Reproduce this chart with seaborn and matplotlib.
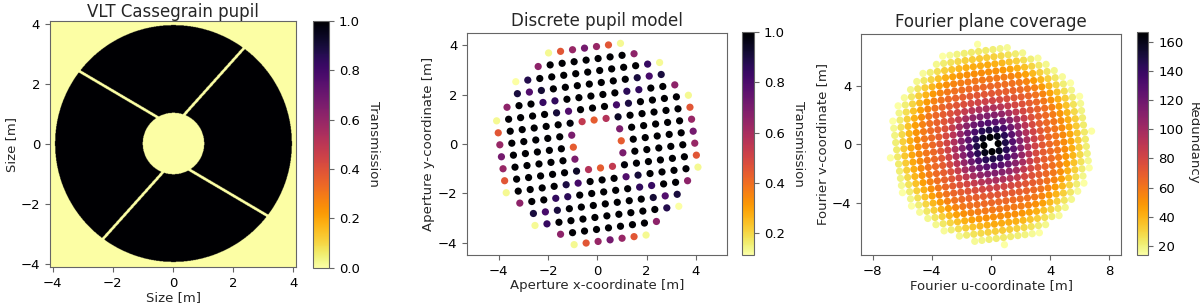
import numpy as np
import pandas as pd
import matplotlib
matplotlib.use('Agg')
import matplotlib.pyplot as plt
import matplotlib.colors as mcolors
import seaborn as sns

# VLT pupil geometry (metres)
image_half_size = 4.1
outer_radius = 3.93
inner_radius = 1.02
spider_hub_y = [0.56, -0.56]
spider_angles = [[48.1, 149.5], [228.1, 329.5]]
spider_width = 0.09

# discrete pupil model: square grid seen in the middle panel
model_outer_radius = 4.02
grid_pitch = 0.49
grid_angle = 7.6
grid_index = list(range(-10, 11))
min_transmission = 0.11
min_redundancy = 13.9

size_ticks = [-4, -2, 0, 2, 4]
fourier_ticks = [-8, -4, 0, 4, 8]
transmission_ticks = [0.0, 0.2, 0.4, 0.6, 0.8, 1.0]
discrete_ticks = [0.2, 0.4, 0.6, 0.8, 1.0]
redundancy_ticks = [20, 40, 60, 80, 100, 120, 140, 160]

titles = ['VLT Cassegrain pupil', 'Discrete pupil model', 'Fourier plane coverage']


def pupil_mask(x, y, r_out=outer_radius):
    r = np.hypot(x, y)
    mask = (r <= r_out) & (r >= inner_radius)
    for hub, angles in zip(spider_hub_y, spider_angles):
        for a in np.deg2rad(angles):
            dx, dy = np.cos(a), np.sin(a)
            ry = y - hub
            along = x * dx + ry * dy
            across = np.abs(-x * dy + ry * dx)
            mask &= ~((along > 0) & (across < spider_width / 2))
    return mask.astype(float)


def grid_to_xy(i, j):
    th = np.deg2rad(grid_angle)
    x = grid_pitch * (i * np.cos(th) - j * np.sin(th))
    y = grid_pitch * (i * np.sin(th) + j * np.cos(th))
    return x, y


# pupil image
n_pix = 600
c = (np.arange(n_pix) + 0.5) / n_pix * 2 * image_half_size - image_half_size
X, Y = np.meshgrid(c, c)
pupil = pupil_mask(X, Y)

# transmission of each grid cell (fraction of the cell inside the pupil)
sub = (np.arange(14) + 0.5) / 14 - 0.5
su, sv = np.meshgrid(sub, sub)
rows = []
for i in grid_index:
    for j in grid_index:
        sx, sy = grid_to_xy(i + su, j + sv)
        t = pupil_mask(sx, sy, model_outer_radius).mean()
        if t >= min_transmission:
            x, y = grid_to_xy(i, j)
            rows.append({'i': i, 'j': j, 'x': x, 'y': y, 't': t})
model = pd.DataFrame(rows)

# baselines between all pairs of sub-apertures
ia, ib = np.meshgrid(model.index, model.index)
keep = ia != ib
pairs = pd.DataFrame({
    'du': model['i'].values[ia[keep]] - model['i'].values[ib[keep]],
    'dv': model['j'].values[ia[keep]] - model['j'].values[ib[keep]],
    'w': model['t'].values[ia[keep]] * model['t'].values[ib[keep]],
})
uv = pairs.groupby(['du', 'dv'])['w'].sum().reset_index()
uv = uv[uv['w'] >= min_redundancy].copy()
uv['u'], uv['v'] = grid_to_xy(uv['du'], uv['dv'])

sns.set_style('ticks')
plt.rcParams['font.family'] = ['DejaVu Sans']
plt.rcParams['axes.edgecolor'] = '#666666'
plt.rcParams['xtick.color'] = '#666666'
plt.rcParams['ytick.color'] = '#666666'
plt.rcParams['xtick.labelcolor'] = 'black'
plt.rcParams['ytick.labelcolor'] = 'black'
plt.rcParams['xtick.labelsize'] = 9.5
plt.rcParams['ytick.labelsize'] = 9.5
plt.rcParams['axes.labelsize'] = 9.5
plt.rcParams['axes.titlesize'] = 12

fig = plt.figure(figsize=(12, 3.04), dpi=100)
ax1 = fig.add_axes([0.0411, 0.1207, 0.2062, 0.8112])
cax1 = fig.add_axes([0.2606, 0.1194, 0.0138, 0.8125])
ax2 = fig.add_axes([0.3894, 0.1612, 0.2167, 0.7303])
cax2 = fig.add_axes([0.6186, 0.1612, 0.0100, 0.7326])
ax3 = fig.add_axes([0.7175, 0.1612, 0.2167, 0.7270])
cax3 = fig.add_axes([0.9473, 0.1612, 0.0097, 0.7326])

cmap = 'inferno_r'

# left: pupil image
im = ax1.imshow(pupil, cmap=cmap, origin='lower', vmin=0, vmax=1,
                extent=[-image_half_size, image_half_size, -image_half_size, image_half_size])
ax1.set_xticks(size_ticks)
ax1.set_yticks(size_ticks)
ax1.set_xlim(-image_half_size, image_half_size)
ax1.set_ylim(-image_half_size, image_half_size)
ax1.set_xlabel('Size [m]', labelpad=1)
ax1.set_ylabel('Size [m]', labelpad=2)
ax1.set_title(titles[0], pad=3)
cb1 = fig.colorbar(im, cax=cax1, ticks=transmission_ticks)
cb1.set_label('Transmission', rotation=270, va='bottom', labelpad=5, fontsize=9.5)

# middle: discrete pupil model
norm2 = mcolors.Normalize(model['t'].min(), model['t'].max())
sns.scatterplot(data=model, x='x', y='y', hue='t', palette=cmap, hue_norm=norm2,
                s=27, linewidth=0, legend=False, ax=ax2)
ax2.set_xticks(size_ticks)
ax2.set_yticks(size_ticks)
ax2.set_xlim(-5.27, 5.27)
ax2.set_ylim(-4.5, 4.5)
ax2.set_xlabel('Aperture x-coordinate [m]', labelpad=1)
ax2.set_ylabel('Aperture y-coordinate [m]', labelpad=2)
ax2.set_title(titles[1], pad=5)
sm2 = plt.cm.ScalarMappable(norm=norm2, cmap=cmap)
cb2 = fig.colorbar(sm2, cax=cax2, ticks=discrete_ticks)
cb2.set_label('Transmission', rotation=270, va='bottom', labelpad=5, fontsize=9.5)

# right: Fourier plane coverage
norm3 = mcolors.Normalize(uv['w'].min(), uv['w'].max())
sns.scatterplot(data=uv, x='u', y='v', hue='w', palette=cmap, hue_norm=norm3,
                s=27, linewidth=0, legend=False, ax=ax3)
ax3.set_xticks(fourier_ticks)
ax3.set_yticks(fourier_ticks)
ax3.set_xlim(-8.79, 8.79)
ax3.set_ylim(-7.5, 7.5)
ax3.set_xlabel('Fourier u-coordinate [m]', labelpad=1)
ax3.set_ylabel('Fourier v-coordinate [m]', labelpad=2)
ax3.set_title(titles[2], pad=5)
sm3 = plt.cm.ScalarMappable(norm=norm3, cmap=cmap)
cb3 = fig.colorbar(sm3, cax=cax3, ticks=redundancy_ticks)
cb3.set_label('Redundancy', rotation=270, va='bottom', labelpad=2, fontsize=9.5)

for cb in [cb1, cb2, cb3]:
    cb.outline.set_edgecolor('#666666')

fig.savefig('out.png', dpi=100)
